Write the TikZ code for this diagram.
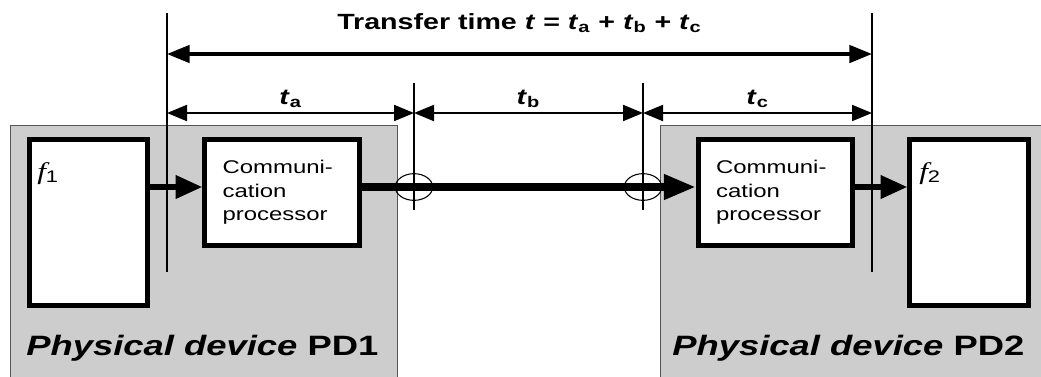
\documentclass[tikz,border=0pt]{standalone}
\usepackage{fontspec}
\setmainfont{Liberation Sans}
\newfontfamily\serifit{Liberation Serif}
\usepackage{graphicx}
\usetikzlibrary{arrows.meta, positioning, calc, shapes.geometric}
\definecolor{devgray}{RGB}{205, 205, 205}
\definecolor{edgegray}{RGB}{85, 85, 85}
\newcommand{\wide}[1]{\scalebox{1.3}[1]{#1}}
\newcommand{\tsub}[1]{\textit{t}\textsubscript{#1}}
\newcommand{\fsub}[1]{{\serifit\itshape f}\textsubscript{#1}}

\begin{document}
\begin{tikzpicture}[
    x=0.75pt, y=-0.75pt,
    device/.style={draw=edgegray, line width=1pt, fill=devgray, anchor=north west,
                   minimum width=#1, minimum height=200pt, inner sep=0pt},
    fnbox/.style={draw, line width=3.6pt, fill=white, minimum width=89pt,
                  minimum height=125pt, inner sep=0pt},
    procbox/.style={draw, line width=3.6pt, fill=white, minimum width=116pt,
                    minimum height=80pt, text width=89pt, align=left, inner sep=0pt,
                    font=\fontsize{13.8}{17.5}\selectfont},
    tick/.style={line width=1pt},
    dimtop/.style={{Triangle[length=17pt,width=13pt]}-{Triangle[length=17pt,width=13pt]}, line width=2.8pt},
    dimrow/.style={{Triangle[length=15pt,width=12pt]}-{Triangle[length=15pt,width=12pt]}, line width=1.5pt},
    flow/.style={-{Triangle[length=20pt,width=17pt]}, line width=3.8pt},
    mainflow/.style={-{Triangle[length=24pt,width=18pt]}, line width=5.6pt},
    joint/.style={draw, ellipse, line width=0.8pt, minimum width=28pt, minimum height=20pt, inner sep=0pt},
    lbl/.style={font=\fontsize{16.5}{20}\selectfont\bfseries},
    devlbl/.style={anchor=base west, inner sep=0pt, font=\fontsize{21}{24}\selectfont\bfseries}
]
    \useasboundingbox (0,0) rectangle (1041,376);
    \clip (0,0) rectangle (1041,376);

    % Devices
    \node[device=290.25pt] (pd1) at (10,125) {};
    \node[device=300pt] (pd2) at (660,125) {};
    \node[devlbl] (pd1lbl) at (26,355) {\wide{\textit{Physical device} PD1}};
    \node[devlbl] (pd2lbl) at (672,355) {\wide{\textit{Physical device} PD2}};

    % Blocks
    \node[fnbox] (f1) at (88.5,222.5) {};
    \node[procbox, right=39pt of f1.north east, anchor=north west] (cp1)
        {\wide{Communi-}\\\wide{cation}\\\wide{processor}};
    \node[procbox] (cp2) at (775.5,192.5)
        {\wide{Communi-}\\\wide{cation}\\\wide{processor}};
    \node[fnbox, right=39pt of cp2.north east, anchor=north west] (f2) {};
    \node[anchor=base west, inner sep=0pt] (f1lbl) at (37,179) {\fontsize{18}{20}\selectfont\wide{\fsub{1}}};
    \node[anchor=base west, inner sep=0pt] (f2lbl) at (919,179) {\fontsize{18}{20}\selectfont\wide{\fsub{2}}};

    % Time marks
    \coordinate (top) at (0,54);
    \coordinate (mid) at (0,113);
    \coordinate (line) at (0,187);
    \foreach \name/\x/\ya/\yb in {va/167/13/272, vb/414/83/210, vc/643/83/210, vd/872/13/272} {
        \coordinate (\name-t) at (\x,\ya);
        \coordinate (\name-b) at (\x,\yb);
        \draw[tick] (\name-t) -- (\name-b);
    }

    % Dimensions
    \draw[dimtop] (va-t |- top) -- node[midway, above=11pt, lbl] (total)
        {\wide{Transfer time \textit{t} = \tsub{a} + \tsub{b} + \tsub{c}}} (vd-t |- top);
    \draw[dimrow] (va-t |- mid) -- node[midway, above, inner sep=3pt, lbl] (ta) {\wide{\tsub{a}}} (vb-t |- mid);
    \draw[dimrow] (vb-t |- mid) -- node[midway, above, inner sep=3pt, lbl] (tb) {\wide{\tsub{b}}} (vc-t |- mid);
    \draw[dimrow] (vc-t |- mid) -- node[midway, above, inner sep=3pt, lbl] (tc) {\wide{\tsub{c}}} (vd-t |- mid);

    % Data path
    \draw[flow] (f1.east |- line) -- (cp1.west |- line);
    \draw[mainflow] (cp1.east |- line) -- (cp2.west |- line);
    \draw[flow] (cp2.east |- line) -- (f2.west |- line);
    \node[joint] (j1) at (vb-t |- line) {};
    \node[joint] (j2) at (vc-t |- line) {};
\end{tikzpicture}
\end{document}
